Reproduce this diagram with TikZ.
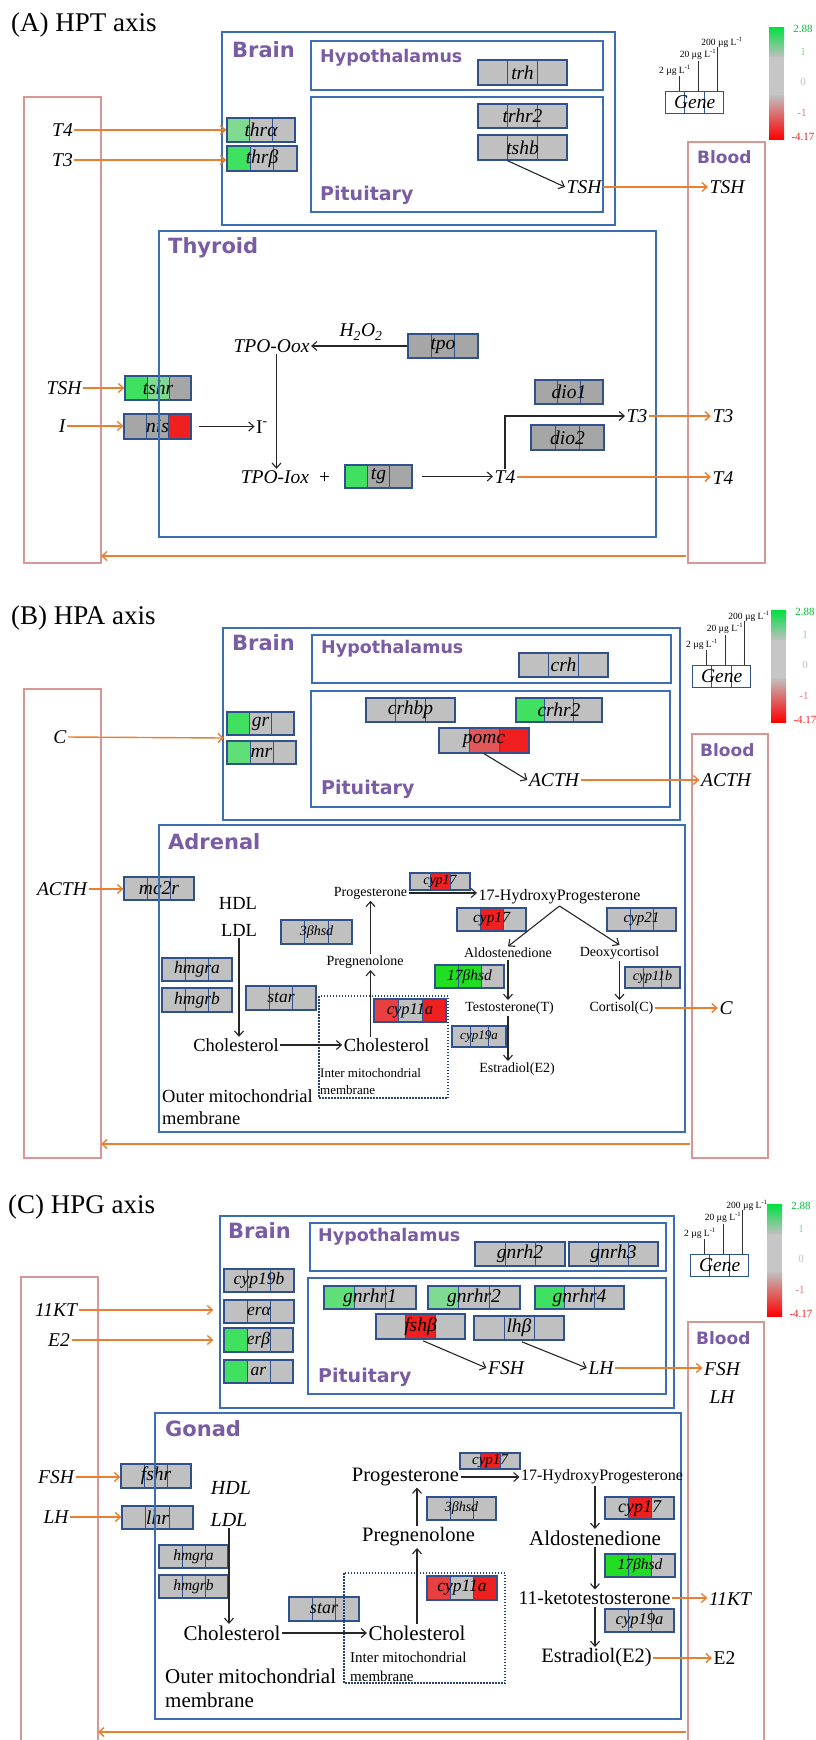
\documentclass[tikz,border=0pt]{standalone}
\usepackage{fontspec}
\setmainfont{Liberation Serif}
\newfontfamily\purpfont{DejaVu Sans}
\usetikzlibrary{arrows.meta,calc}
\newcommand{\fs}[1]{\fontsize{#1}{#1}\selectfont}
\definecolor{gG}{RGB}{192,192,192}
\definecolor{gD}{RGB}{166,166,166}
\definecolor{gR}{RGB}{240,32,32}
\definecolor{gRtwo}{RGB}{226,88,88}
\definecolor{gRthree}{RGB}{232,64,64}
\definecolor{gGr}{RGB}{64,224,96}
\definecolor{gGm}{RGB}{96,222,120}
\definecolor{gGl}{RGB}{128,218,146}
\definecolor{gGv}{RGB}{34,222,34}
\definecolor{gbord}{RGB}{47,82,143}
\definecolor{obox}{RGB}{60,110,180}
\definecolor{pinkb}{RGB}{216,150,148}
\definecolor{orng}{RGB}{232,128,48}
\definecolor{purp}{RGB}{122,92,164}
\definecolor{cG}{RGB}{0,224,64}
\tikzset{
  genebox/.style={draw=gbord, line width=1.3pt, inner sep=0pt, font=\itshape\fs{19.5}},
  ttl/.style={anchor=west, inner sep=0pt, font=\fs{27}},
  lab/.style={anchor=west, inner sep=0pt, text=purp, font=\purpfont\bfseries\fs{21}},
  labs/.style={anchor=west, inner sep=0pt, text=purp, font=\purpfont\bfseries\fs{#1}},
  it/.style={inner sep=1.5pt, font=\itshape\fs{19.5}},
  itx/.style={inner sep=1.5pt, font=\itshape\fs{#1}},
  rm/.style={inner sep=1.5pt, font=\fs{#1}},
  note/.style={anchor=west, inner sep=0pt, font=\fs{#1}},
  oarr/.style={draw=orng, line width=1.4pt, -{Straight Barb[length=5pt,width=9pt]}},
  barr/.style={draw=black!85, line width=1.1pt, -{Straight Barb[length=5pt,width=9pt]}},
  obx/.style={draw=obox, line width=1.6pt},
  pbx/.style={draw=pinkb, line width=1.6pt},
  dbx/.style={draw=gbord!80!black, line width=1.5pt, dash pattern=on 1.5pt off 1.5pt},
}
% name, cx, cy, w, h, c1, c2, c3, text
\newcommand{\gbx}[9]{%
  \fill[#6] ({#2-#4/2},{#3-#5/2}) rectangle ({#2-#4/6},{#3+#5/2});
  \fill[#7] ({#2-#4/6},{#3-#5/2}) rectangle ({#2+#4/6},{#3+#5/2});
  \fill[#8] ({#2+#4/6},{#3-#5/2}) rectangle ({#2+#4/2},{#3+#5/2});
  \draw[gbord, line width=0.9pt] ({#2-#4/6},{#3-#5/2}) -- ({#2-#4/6},{#3+#5/2}) ({#2+#4/6},{#3-#5/2}) -- ({#2+#4/6},{#3+#5/2});
  \node[genebox, minimum width=#4, minimum height=#5] (#1) at (#2,#3) {#9};}
% prefix, gene box x,y (top left), bar x,y (top left)
\newcommand{\genelegend}[5]{%
  \draw[gbord, line width=1pt] ({#2+19},#3) -- ({#2+19},{#3+22}) ({#2+39},#3) -- ({#2+39},{#3+22});
  \node[draw=gbord, line width=1.2pt, minimum width=58, minimum height=22, inner sep=0pt, font=\itshape\fs{19.5}, anchor=north west] (#1gene) at (#2,#3) {Gene};
  \node[font=\fs{9.5}, inner sep=0pt] (#1dl) at ({#2+10},{#3-21}) {2 µg L\textsuperscript{-1}};
  \node[font=\fs{9.5}, inner sep=0pt] (#1dm) at ({#2+33},{#3-37}) {20 µg L\textsuperscript{-1}};
  \node[font=\fs{9.5}, inner sep=0pt] (#1dh) at ({#2+57},{#3-49}) {200 µg L\textsuperscript{-1}};
  \draw[black!80, line width=0.8pt] ({#2+14},#3) -- ({#2+14},{#3-15}) ({#2+33},#3) -- ({#2+33},{#3-30}) ({#2+52},#3) -- ({#2+52},{#3-44});
  \shade[top color=cG, bottom color=gG] (#4,#5) rectangle ({#4+15},{#5+30});
  \fill[gG!90!white] (#4,{#5+30}) rectangle ({#4+15},{#5+68});
  \shade[top color=gG, bottom color=red] (#4,{#5+68}) rectangle ({#4+15},{#5+112});
  \node[font=\fs{11}, text=cG!85!black, inner sep=0pt] (#1v1) at ({#4+34},{#5+2}) {2.88};
  \node[font=\fs{11}, text=gGl, inner sep=0pt] (#1v2) at ({#4+34},{#5+25}) {1};
  \node[font=\fs{11}, text=gG, inner sep=0pt] (#1v3) at ({#4+34},{#5+55}) {0};
  \node[font=\fs{11}, text=gRtwo!80!white, inner sep=0pt] (#1v4) at ({#4+33},{#5+86}) {-1};
  \node[font=\fs{11}, text=gR, inner sep=0pt] (#1v5) at ({#4+34},{#5+110}) {-4.17};
}
\begin{document}
\begin{tikzpicture}[x=1pt,y=-1pt]
\useasboundingbox (0,0) rectangle (816,1740);
\fill[white] (0,0) rectangle (816,1740);

%%%%%%%%%%%%%%%% (A) HPT axis
\draw[pbx] (24,97) rectangle (101,563);
\draw[pbx] (688,142) rectangle (765,563);
\gbx{a_trh}{522.5}{72.5}{89}{25}{gG}{gG}{gG}{trh}
\gbx{a_trhr2}{522.5}{116}{89}{24}{gG}{gG}{gG}{trhr2}
\gbx{a_tshb}{522.5}{147.5}{89}{25}{gG}{gG}{gG}{tshb}
\gbx{a_thra}{261}{130}{68}{24}{gGl}{gG}{gG}{thrα}
\gbx{a_thrb}{262}{158.5}{70}{25}{gGr}{gG}{gG}{thrβ}
\gbx{a_tpo}{443}{346}{70}{24}{gD}{gD}{gD}{tpo}
\gbx{a_tshr}{158}{388}{66}{24}{gGr}{gGl}{gD}{tshr}
\gbx{a_nis}{157.5}{426.5}{67}{25}{gD}{gD}{gR}{nis}
\gbx{a_dio1}{569}{392}{68}{24}{gD}{gD}{gD}{dio1}
\gbx{a_dio2}{567.5}{437.5}{73}{25}{gD}{gD}{gD}{dio2}
\gbx{a_tg}{378.5}{476.5}{67}{23}{gGr}{gD}{gD}{tg}
\draw[obx] (222,32) rectangle (615,225);
\draw[obx] (311,41) rectangle (603,90);
\draw[obx] (311,97) rectangle (603,212);
\draw[obx] (159,231) rectangle (656,537);
\node[ttl] (a_title) at (11,25) {(A) HPT axis};
\node[lab] (a_brain) at (232,50) {Brain};
\node[labs=17.5] (a_hyp) at (320,58) {Hypothalamus};
\node[labs=19] (a_pit) at (320,195) {Pituitary};
\node[lab] (a_thy) at (168,248) {Thyroid};
\node[labs=17] (a_blood) at (697,157) {Blood};
\node[it] (a_T4l) at (62.5,130) {T4};
\node[it] (a_T3l) at (62.5,160) {T3};
\node[it] (a_TSHp) at (584,187) {TSH};
\node[it] (a_TSHb) at (727,187) {TSH};
\node[it] (a_h2o2) at (361,332) {H\textsubscript{2}O\textsubscript{2}};
\node[it] (a_oox) at (271.5,346) {TPO-Oox};
\node[it] (a_TSHl) at (64,388) {TSH};
\node[it] (a_Il) at (62,426) {I};
\node[rm=19.5] (a_Im) at (262,427) {I\textsuperscript{-}};
\node[it] (a_iox) at (285.5,477) {TPO-Iox\hspace{10pt}\upshape +};
\node[it] (a_T4t) at (505,477) {T4};
\node[it] (a_T3t) at (637,416) {T3};
\node[it] (a_T3b) at (723,416) {T3};
\node[it] (a_T4b) at (723,478) {T4};
\draw[oarr] (a_T4l.east) -- (a_T4l.east -| a_thra.west);
\draw[oarr] (a_T3l.east) -- (a_T3l.east -| a_thrb.west);
\draw[barr] ($(a_tshb.south west)!1/3!(a_tshb.south east)$) -- (a_TSHp.west);
\draw[oarr] (a_TSHp.east) -- (a_TSHb.west);
\draw[barr] (a_tpo.west) -- (a_oox.east);
\draw[oarr] (a_TSHl.east) -- (a_TSHl.east -| a_tshr.west);
\draw[oarr] (a_Il.east) -- (a_Il.east -| a_nis.west);
\draw[barr, shorten <=7pt] (a_nis.east) -- (a_nis.east -| a_Im.west);
\draw[barr] ($(a_oox.south)+(5,0)$) -- ($(a_oox.south |- a_iox.north)+(5,0)$);
\draw[barr, shorten <=9pt] (a_tg.east) -- (a_tg.east -| a_T4t.west);
\draw[barr] (a_T4t.north) |- (a_T3t.west);
\draw[oarr] (a_T3t.east) -- (a_T3b.west);
\draw[oarr] (a_T4t.east) -- (a_T4t.east -| a_T4b.west);
\coordinate (a_bR) at (686,556);
\coordinate (a_bL) at (101,556);
\draw[oarr] (a_bR) -- (a_bL);
\genelegend{a_}{665}{91}{769}{27}

%%%%%%%%%%%%%%%% (B) HPA axis
\draw[pbx] (24,689) rectangle (101,1158);
\draw[pbx] (692,734) rectangle (768,1158);
\gbx{b_crh}{563.5}{665}{89}{24}{gG}{gG}{gG}{crh}
\gbx{b_crhbp}{410.5}{710}{89}{24}{gG}{gG}{gG}{crhbp}
\gbx{b_crhr2}{559}{710}{86}{24}{gGr}{gG}{gG}{crhr2}
\gbx{b_pomc}{484}{740.5}{90}{25}{gG}{gRtwo}{gR}{pomc}
\gbx{b_gr}{260.5}{723.5}{67}{23}{gGr}{gG}{gG}{gr}
\gbx{b_mr}{261.5}{752.5}{69}{23}{gGm}{gG}{gG}{mr}
\gbx{b_mc2r}{159}{888.5}{70}{23}{gG}{gG}{gG}{mc2r}
\gbx{b_3bhsd}{316.5}{932}{71}{24}{gG}{gG}{gG}{\fs{14}3βhsd}
\gbx{b_hmgra}{197}{969.5}{70}{23}{gG}{gG}{gG}{\fs{17.5}hmgra}
\gbx{b_hmgrb}{197}{1000}{70}{24}{gG}{gG}{gG}{\fs{17.5}hmgrb}
\gbx{b_star}{281}{998}{70}{24}{gG}{gG}{gG}{\fs{17.5}star}
\gbx{b_cyp11a}{410}{1010.5}{72}{23}{gRthree}{gG}{gR}{\fs{16.5}cyp11a}
\gbx{b_cyp17s}{440}{881.5}{60}{17}{gG}{gR}{gG}{\fs{14}cyp17}
\gbx{b_cyp17}{491.5}{919.5}{69}{23}{gG}{gR}{gG}{\fs{15.5}cyp17}
\gbx{b_cyp21}{641.5}{919.5}{69}{23}{gG}{gG}{gG}{\fs{15}cyp21}
\gbx{b_17bhsd}{469.5}{976.5}{69}{23}{gGv}{gGv}{gG}{\fs{15.5}17βhsd}
\gbx{b_cyp11b}{652.5}{977.5}{55}{21}{gG}{gG}{gG}{\fs{14}cyp11b}
\gbx{b_cyp19a}{479}{1036.5}{54}{21}{gG}{gG}{gG}{\fs{13}cyp19a}
\draw[obx] (223,628) rectangle (680,820);
\draw[obx] (312,635) rectangle (671,683);
\draw[obx] (311,691) rectangle (670,807);
\draw[obx] (159,825) rectangle (685,1132);
\draw[dbx] (319,996) rectangle (448,1098);
\node[ttl] (b_title) at (11,618) {(B) HPA axis};
\node[lab] (b_brain) at (232,643) {Brain};
\node[labs=17.5] (b_hyp) at (321,649) {Hypothalamus};
\node[labs=19] (b_pit) at (321,789) {Pituitary};
\node[lab] (b_adr) at (168,842) {Adrenal};
\node[labs=17] (b_blood) at (700,750) {Blood};
\node[it] (b_Cl) at (60,737) {C};
\node[it] (b_ACTHp) at (554,780) {ACTH};
\node[it] (b_ACTHb) at (726,780) {ACTH};
\node[it] (b_ACTHl) at (62,889) {ACTH};
\node[rm=18.5] (b_hdl) at (238,903) {HDL};
\node[rm=18.5] (b_ldl) at (239,930) {LDL};
\node[rm=18.5] (b_cholL) at (236,1045) {Cholesterol};
\node[rm=18.5] (b_cholR) at (386.5,1045) {Cholesterol};
\node[rm=14] (b_preg) at (365,962) {Pregnenolone};
\node[rm=14] (b_prog) at (370.5,893) {Progesterone};
\node[rm=16] (b_17hp) at (559.5,897) {17-HydroxyProgesterone};
\node[rm=14] (b_ald) at (508,953) {Aldostenedione};
\node[rm=14] (b_deo) at (619.5,953) {Deoxycortisol};
\node[rm=14] (b_tes) at (509.5,1008) {Testosterone(T)};
\node[rm=14] (b_cor) at (621.5,1008) {Cortisol(C)};
\node[rm=14] (b_e2) at (517,1069) {Estradiol(E2)};
\node[it] (b_Cr) at (726,1008) {C};
\node[note=13] (b_imm1) at (320,1073) {Inter mitochondrial};
\node[note=13] (b_imm2) at (320,1090) {membrane};
\node[note=18.5] (b_omm1) at (162,1096) {Outer mitochondrial};
\node[note=18.5] (b_omm2) at (162,1118) {membrane};
\draw[barr] (b_pomc.south) -- (b_ACTHp.west);
\draw[oarr] (b_ACTHp.east) -- (b_ACTHb.west);
\coordinate (b_grin) at (224,738);
\draw[oarr] (b_Cl.east) -- (b_grin);
\draw[oarr] (b_ACTHl.east) -- (b_ACTHl.east -| b_mc2r.west);
\draw[barr] (b_ldl.south) -- (b_ldl.south |- b_cholL.north);
\draw[barr] (b_cholL.east) -- (b_cholR.west);
\draw[barr] (b_cholR.north -| b_prog) -- (b_preg.south -| b_prog);
\draw[barr] (b_preg.north -| b_prog) -- (b_prog.south);
\draw[barr] (b_prog.east) -- (b_prog.east -| b_17hp.west);
\draw[barr] (b_17hp.south) -- (b_ald.north);
\draw[barr] (b_17hp.south) -- (b_deo.north);
\draw[barr] (b_ald.south) -- (b_ald.south |- b_tes.north);
\draw[barr] (b_deo.south) -- (b_deo.south |- b_cor.north);
\draw[barr] (b_tes.south -| b_ald) -- (b_e2.north -| b_ald);
\draw[oarr] (b_cor.east) -- (b_Cr.west);
\coordinate (b_bR) at (690,1144);
\coordinate (b_bL) at (101,1144);
\draw[oarr] (b_bR) -- (b_bL);
\genelegend{b_}{692}{665}{771}{610}

%%%%%%%%%%%%%%%% (C) HPG axis
\draw[pbx] (21,1277) rectangle (98,1750);
\draw[pbx] (688,1322) rectangle (764,1750);
\gbx{c_gnrh2}{520}{1254}{90}{24}{gG}{gG}{gG}{gnrh2}
\gbx{c_gnrh3}{613.5}{1254}{89}{24}{gG}{gG}{gG}{gnrh3}
\gbx{c_cyp19b}{259}{1280.5}{70}{23}{gG}{gG}{gG}{\fs{17.5}cyp19b}
\gbx{c_era}{259}{1311.5}{70}{23}{gG}{gG}{gG}{\fs{17.5}erα}
\gbx{c_erb}{258.5}{1340}{69}{24}{gGr}{gG}{gG}{\fs{17.5}erβ}
\gbx{c_ar}{258.5}{1371.5}{69}{23}{gGr}{gG}{gG}{\fs{17.5}ar}
\gbx{c_gnrhr1}{370}{1297.5}{92}{23}{gGm}{gG}{gG}{gnrhr1}
\gbx{c_gnrhr2}{474}{1297.5}{92}{23}{gGl}{gG}{gG}{gnrhr2}
\gbx{c_gnrhr4}{579.5}{1297.5}{89}{23}{gGr}{gG}{gG}{gnrhr4}
\gbx{c_fshb}{420.5}{1326.5}{89}{25}{gG}{gR}{gG}{fshβ}
\gbx{c_lhb}{519}{1328}{90}{24}{gG}{gG}{gG}{lhβ}
\gbx{c_fshr}{156}{1476}{70}{24}{gG}{gG}{gG}{fshr}
\gbx{c_lhr}{157.5}{1517.5}{71}{23}{gG}{gG}{gG}{lhr}
\gbx{c_hmgra}{193.5}{1556.5}{69}{23}{gG}{gG}{gG}{\fs{15.5}hmgra}
\gbx{c_hmgrb}{193.5}{1586.5}{69}{23}{gG}{gG}{gG}{\fs{15.5}hmgrb}
\gbx{c_star}{324}{1609}{70}{24}{gG}{gG}{gG}{\fs{18}star}
\gbx{c_cyp11a}{462}{1588}{70}{24}{gRthree}{gG}{gR}{\fs{17.5}cyp11a}
\gbx{c_3bhsd}{461.5}{1508.5}{69}{23}{gG}{gG}{gG}{\fs{14}3βhsd}
\gbx{c_cyp17s}{490}{1461}{60}{16}{gG}{gR}{gG}{\fs{15}cyp17}
\gbx{c_cyp17}{639.5}{1508}{69}{22}{gG}{gR}{gG}{\fs{18}cyp17}
\gbx{c_17bhsd}{640}{1565.5}{70}{23}{gGv}{gGv}{gG}{\fs{15.5}17βhsd}
\gbx{c_cyp19a}{639.5}{1620.5}{69}{23}{gG}{gG}{gG}{\fs{16.5}cyp19a}
\draw[obx] (220,1216) rectangle (674,1408);
\draw[obx] (310,1223) rectangle (666,1271);
\draw[obx] (308,1278) rectangle (666,1394);
\draw[obx] (155,1413) rectangle (681,1719);
\draw[dbx] (344,1573) rectangle (505,1683);
\node[ttl] (c_title) at (8,1207) {(C) HPG axis};
\node[lab] (c_brain) at (228,1231) {Brain};
\node[labs=17.5] (c_hyp) at (318,1237) {Hypothalamus};
\node[labs=19] (c_pit) at (318,1377) {Pituitary};
\node[lab] (c_gon) at (165,1429) {Gonad};
\node[labs=17] (c_blood) at (696,1338) {Blood};
\node[it] (c_11KTl) at (56,1310) {11KT};
\node[it] (c_E2l) at (59,1340) {E2};
\node[it] (c_FSHp) at (506,1368) {FSH};
\node[it] (c_LHp) at (601,1368) {LH};
\node[it] (c_FSHb) at (722,1369) {FSH};
\node[it] (c_LHb) at (722,1397) {LH};
\node[it] (c_FSHl) at (56,1477) {FSH};
\node[it] (c_LHl) at (56,1517) {LH};
\node[itx=20] (c_hdl) at (231,1488) {HDL};
\node[itx=20] (c_ldl) at (229,1520) {LDL};
\node[rm=21] (c_cholL) at (232,1633) {Cholesterol};
\node[rm=21] (c_cholR) at (417,1633) {Cholesterol};
\node[rm=20.5] (c_preg) at (418.5,1537) {Pregnenolone};
\node[rm=20.5] (c_prog) at (405.5,1477) {Progesterone};
\node[rm=16] (c_17hp) at (602,1477) {17-HydroxyProgesterone};
\node[rm=21] (c_ald) at (595,1538) {Aldostenedione};
\node[rm=19.5] (c_11k) at (594.5,1598) {11-ketotestosterone};
\node[rm=20.5] (c_e2) at (596.5,1658) {Estradiol(E2)};
\node[it] (c_11KTr) at (730,1599) {11KT};
\node[rm=19.5] (c_E2r) at (724.5,1658) {E2};
\node[note=15] (c_imm1) at (350,1657) {Inter mitochondrial};
\node[note=15] (c_imm2) at (350,1676) {membrane};
\node[note=21] (c_omm1) at (165,1676) {Outer mitochondrial};
\node[note=21] (c_omm2) at (165,1700) {membrane};
\draw[oarr, shorten >=10pt] (c_11KTl.east) -- (c_11KTl.east -| c_era.west);
\draw[oarr, shorten >=10pt] (c_E2l.east) -- (c_E2l.east -| c_erb.west);
\draw[barr, shorten <=3pt] (c_fshb.south) -- (c_FSHp.west);
\draw[barr, shorten <=3pt] (c_lhb.south) -- (c_LHp.west);
\draw[oarr] (c_LHp.east) -- (c_LHp.east -| c_FSHb.west);
\draw[oarr] (c_FSHl.east) -- (c_FSHl.east -| c_fshr.west);
\draw[oarr] (c_LHl.east) -- (c_LHl.east -| c_lhr.west);
\draw[barr] (c_ldl.south) -- (c_ldl.south |- c_cholL.north);
\draw[barr] (c_cholL.east) -- (c_cholR.west);
\draw[barr] (c_cholR.north) -- (c_preg.south -| c_cholR);
\draw[barr] (c_preg.north -| c_cholR) -- (c_prog.south -| c_cholR);
\draw[barr] (c_prog.east) -- (c_prog.east -| c_17hp.west);
\draw[barr] (c_17hp.south -| c_ald) -- (c_ald.north);
\draw[barr] (c_ald.south) -- (c_11k.north -| c_ald);
\draw[barr] (c_11k.south -| c_ald) -- (c_e2.north -| c_ald);
\draw[oarr] (c_11k.east) -- (c_11k.east -| c_11KTr.west);
\draw[oarr] (c_e2.east) -- (c_E2r.west);
\coordinate (c_bR) at (686,1732);
\coordinate (c_bL) at (98,1732);
\draw[oarr] (c_bR) -- (c_bL);
\genelegend{c_}{690}{1254}{767}{1204}
\end{tikzpicture}
\end{document}
